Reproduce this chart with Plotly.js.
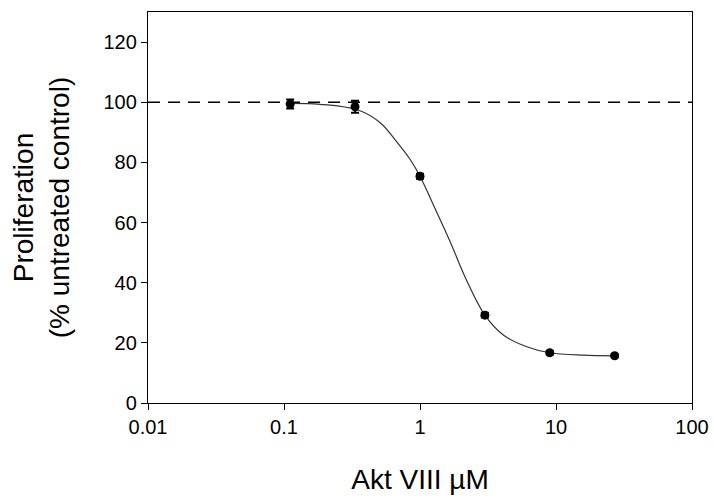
<!DOCTYPE html>
<html>
<head>
<meta charset="utf-8">
<script src="https://cdn.plot.ly/plotly-3.0.1.min.js"></script>
<style>html,body{margin:0;padding:0;background:#fff;}#chart{width:714px;height:502px;}</style>
</head>
<body>
<div id="chart"></div>
<script>
// Measured data points
const doseUM = [0.111, 0.333, 1, 3, 9, 27];
const proliferation = [99.4, 98.5, 75.4, 29.2, 16.7, 15.7];
const errorSEM = [1.5, 2.0, 0.8, 0.8, 0.6, 0.5];

// Fitted curve
const curveX = [0.111, 0.184, 0.35, 0.51, 0.67, 0.84, 1.0, 1.25, 1.66, 2.2, 3.0, 4.1, 6.1, 9.0, 15.8, 27];
const curveY = [99.6, 99.3, 97.4, 93.2, 87.0, 81.2, 75.4, 66.0, 53.8, 40.8, 29.2, 22.6, 18.7, 16.7, 15.9, 15.7];

// Untreated-control reference level
const controlLevel = 100;

const xTickVals = [0.01, 0.1, 1, 10, 100];
const xTickText = ['0.01', '0.1', '1', '10', '100'];
const yTickVals = [0, 20, 40, 60, 80, 100, 120];

const font = 'Liberation Sans, Arial, sans-serif';

const traces = [
  {
    x: curveX, y: curveY, type: 'scatter', mode: 'lines',
    line: {color: '#333333', width: 1.2, shape: 'spline', smoothing: 1},
    hoverinfo: 'skip', showlegend: false
  },
  {
    x: doseUM, y: proliferation, type: 'scatter', mode: 'markers',
    marker: {color: '#000000', size: 9, symbol: 'circle'},
    error_y: {type: 'data', array: errorSEM, visible: true, color: '#000000', thickness: 2, width: 4},
    showlegend: false
  }
];

const layout = {
  width: 714, height: 502,
  margin: {l: 148, r: 22, t: 11.5, b: 99},
  paper_bgcolor: '#ffffff', plot_bgcolor: '#ffffff',
  font: {family: font, color: '#000000'},
  showlegend: false,
  xaxis: {
    type: 'log', range: [-2, 2],
    tickvals: xTickVals, ticktext: xTickText,
    ticks: 'outside', ticklen: 6, tickwidth: 1, tickcolor: '#000',
    showgrid: false, zeroline: false,
    showline: true, linecolor: '#000', linewidth: 1.2, mirror: true,
    tickfont: {family: font, size: 20, color: '#000'},
    title: {text: 'Akt VIII \u00B5M', font: {family: font, size: 28, color: '#000'}, standoff: 32}
  },
  yaxis: {
    range: [0, 130],
    tickvals: yTickVals,
    ticks: 'outside', ticklen: 6, tickwidth: 1, tickcolor: '#000',
    showgrid: false, zeroline: false,
    showline: true, linecolor: '#000', linewidth: 1.2, mirror: true,
    tickfont: {family: font, size: 20, color: '#000'},
    title: {text: 'Proliferation<br>(% untreated control)', font: {family: font, size: 28, color: '#000'}, standoff: 25}
  },
  shapes: [{
    type: 'line', xref: 'paper', x0: 0, x1: 1, yref: 'y', y0: controlLevel, y1: controlLevel,
    line: {color: '#000', width: 1.5, dash: '12px,8px'}, layer: 'below'
  }]
};

Plotly.newPlot('chart', traces, layout, {staticPlot: true});
</script>
</body>
</html>
